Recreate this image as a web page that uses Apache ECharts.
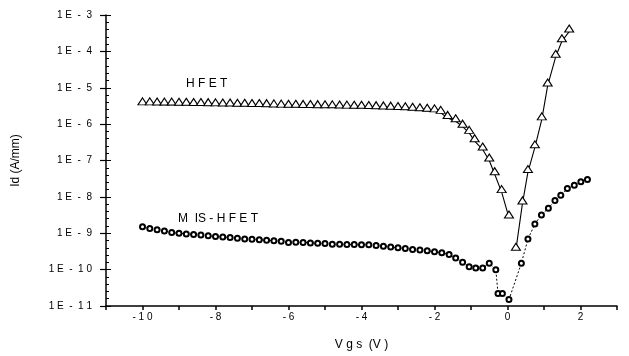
<!DOCTYPE html>
<html><head><meta charset="utf-8">
<script src="https://cdn.jsdelivr.net/npm/echarts@6/dist/echarts.min.js"></script>
<style>html,body{margin:0;padding:0;background:#fff}#c{width:629px;height:356px}</style>
</head><body><div id="c"></div>
<script>
// HFET (triangles): Vgs (V), Id (A/mm)
const hfetDownV = [-10,-9.8,-9.6,-9.4,-9.2,-9,-8.8,-8.6,-8.4,-8.2,-8,-7.8,-7.6,-7.4,-7.2,-7,-6.8,-6.6,-6.4,-6.2,-6,-5.8,-5.6,-5.4,-5.2,-5,-4.8,-4.6,-4.4,-4.2,-4,-3.8,-3.6,-3.4,-3.2,-3,-2.8,-2.6,-2.4,-2.2,-2,-1.83,-1.64,-1.42,-1.23,-1.05,-0.9,-0.68,-0.5,-0.35,-0.16,0.04];
const hfetDownI = [3.49e-6,3.49e-6,3.47e-6,3.44e-6,3.44e-6,3.40e-6,3.40e-6,3.36e-6,3.36e-6,3.32e-6,3.28e-6,3.24e-6,3.24e-6,3.20e-6,3.20e-6,3.15e-6,3.15e-6,3.11e-6,3.07e-6,3.03e-6,3.0e-6,2.99e-6,2.97e-6,2.95e-6,2.92e-6,2.9e-6,2.89e-6,2.86e-6,2.84e-6,2.82e-6,2.82e-6,2.78e-6,2.74e-6,2.70e-6,2.66e-6,2.61e-6,2.57e-6,2.49e-6,2.41e-6,2.32e-6,2.24e-6,2.04e-6,1.48e-6,1.2e-6,8.5e-7,5.75e-7,3.4e-7,2.0e-7,1.0e-7,4.2e-8,1.35e-8,2.7e-9];
const hfetUpV = [0.23,0.41,0.56,0.75,0.94,1.10,1.32,1.49,1.69];
const hfetUpI = [3.5e-10,6.6e-9,4.8e-8,2.3e-7,1.35e-6,1.15e-5,7.1e-5,1.9e-4,3.5e-4];
// MIS-HFET (open markers)
const misV = [-10,-9.8,-9.6,-9.4,-9.2,-9,-8.8,-8.6,-8.4,-8.2,-8,-7.8,-7.6,-7.4,-7.2,-7,-6.8,-6.6,-6.4,-6.2,-6,-5.8,-5.6,-5.4,-5.2,-5,-4.8,-4.6,-4.4,-4.2,-4,-3.8,-3.6,-3.4,-3.2,-3,-2.8,-2.6,-2.4,-2.2,-2,-1.8,-1.6,-1.42,-1.23,-1.05,-0.87,-0.68,-0.5,-0.32,-0.26,-0.14,0.04,0.38,0.56,0.75,0.93,1.12,1.30,1.46,1.64,1.83,2.01,2.19];
const misI = [1.5e-9,1.35e-9,1.25e-9,1.15e-9,1.05e-9,1.0e-9,9.6e-10,9.3e-10,9.0e-10,8.5e-10,8.2e-10,7.9e-10,7.6e-10,7.3e-10,7.0e-10,6.8e-10,6.6e-10,6.4e-10,6.2e-10,6.0e-10,5.6e-10,5.7e-10,5.6e-10,5.4e-10,5.3e-10,5.2e-10,5.0e-10,5.0e-10,4.9e-10,4.9e-10,4.8e-10,4.8e-10,4.6e-10,4.4e-10,4.2e-10,4.0e-10,3.8e-10,3.6e-10,3.45e-10,3.3e-10,3.1e-10,2.9e-10,2.6e-10,2.1e-10,1.6e-10,1.2e-10,1.1e-10,1.1e-10,1.5e-10,1.0e-10,2.2e-11,2.2e-11,1.5e-11,1.5e-10,6.9e-10,1.8e-9,3.2e-9,4.9e-9,7.9e-9,1.1e-8,1.7e-8,2.1e-8,2.6e-8,3.0e-8];
const xTickLabels = {'-10':'- 1 0','-8':'- 8','-6':'- 6','-4':'- 4','-2':'- 2','0':'0','2':'2'};
const yTickExp = [-3,-4,-5,-6,-7,-8,-9,-10,-11];

const pairs = (xs, ys) => xs.map((x, i) => [x, ys[i]]);
const font = 'Liberation Sans';
const chart = echarts.init(document.getElementById('c'), null, {renderer: 'canvas'});
const triStyle = {
  type: 'line', symbol: 'triangle', symbolSize: [9, 7], symbolOffset: [0, -3],
  itemStyle: {color: '#fff', borderColor: '#000', borderWidth: 1.1},
  lineStyle: {color: '#000', width: 1.1}, z: 3, animation: false
};
chart.setOption({
  animation: false,
  grid: {left: 106, right: 12, top: 15, bottom: 50},
  xAxis: {
    type: 'value', min: -11, max: 3, interval: 1,
    axisLine: {onZero: false, lineStyle: {color: '#000', width: 1.5}},
    axisTick: {lineStyle: {color: '#000', width: 1.5}, length: 4},
    splitLine: {show: false},
    axisLabel: {fontFamily: font, fontSize: 10, color: '#000', margin: 6,
      formatter: v => xTickLabels[String(v)] || ''},
    name: 'V g s  (V )', nameLocation: 'middle', nameGap: 33,
    nameTextStyle: {fontFamily: font, fontSize: 12, color: '#000'}
  },
  yAxis: [{
    type: 'log', logBase: 10, min: 1e-11, max: 1e-3, interval: 1,
    axisLine: {onZero: false, lineStyle: {color: '#000', width: 1.5}},
    axisTick: {lineStyle: {color: '#000', width: 1.2}, length: 6},
    splitLine: {show: false},
    axisLabel: {fontFamily: font, fontSize: 10, color: '#000', margin: 14,
      formatter: v => {
        const e = Math.round(Math.log10(v));
        return yTickExp.includes(e) ? '1 E  -  ' + String(-e).split('').join(' ') : '';
      }},
    name: 'Id (A/mm)', nameLocation: 'middle', nameGap: 84, nameRotate: 90,
    nameTextStyle: {fontFamily: font, fontSize: 12, color: '#000'}
  }, {
    // decorative axis carrying only the inside tick marks between decades
    type: 'value', position: 'left', min: -11, max: -3, interval: 1,
    axisLine: {show: false, onZero: false}, axisLabel: {show: false},
    axisTick: {show: true, inside: true, length: 5, lineStyle: {color: '#000', width: 1}},
    splitLine: {show: false},
    minorTick: {show: true, splitNumber: 5, length: 3, lineStyle: {color: '#000', width: 1}}
  }],
  series: [
    Object.assign({name: 'HFET', data: pairs(hfetDownV, hfetDownI)}, triStyle),
    Object.assign({name: 'HFET up', data: pairs(hfetUpV, hfetUpI)}, triStyle),
    {
      name: 'MIS-HFET', type: 'line', data: pairs(misV, misI),
      symbol: 'emptyCircle', symbolSize: 5,
      itemStyle: {color: '#000', borderColor: '#000', borderWidth: 1},
      lineStyle: {color: '#000', width: 1, type: [2, 2]}, z: 2, animation: false
    }
  ],
  graphic: [
    {type: 'text', left: 186, top: 78, style: {text: 'H F E T', font: '12px "Liberation Sans"', fill: '#000'}},
    {type: 'text', left: 178, top: 213, style: {text: 'M  IS - H F E T', font: '12px "Liberation Sans"', fill: '#000'}}
  ]
});
</script></body></html>
